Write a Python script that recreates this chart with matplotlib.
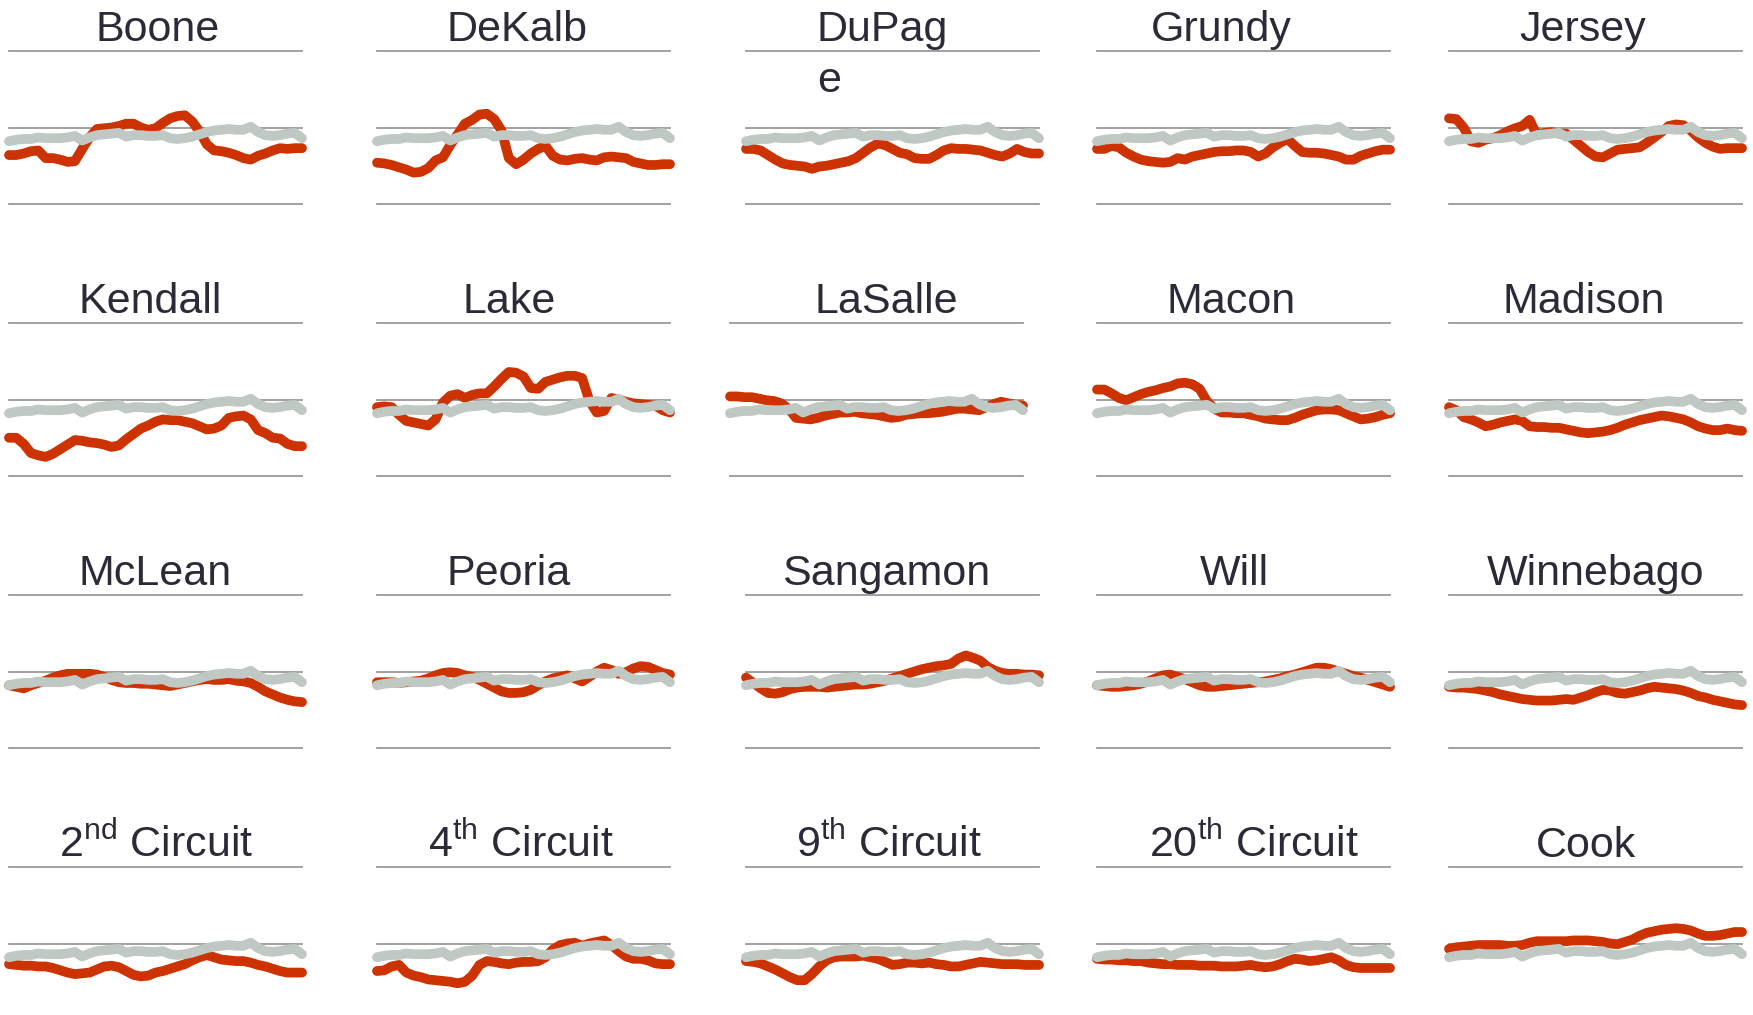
import matplotlib
matplotlib.use("Agg")
import matplotlib.pyplot as plt

plt.rcParams['font.family'] = ['Liberation Sans', 'DejaVu Sans']
plt.rcParams['mathtext.fontset'] = 'custom'
plt.rcParams['mathtext.rm'] = 'Liberation Sans'

# ---------------- data ----------------
titles = ["Boone", "DeKalb", "DuPag\ne", "Grundy", "Jersey",
          "Kendall", "Lake", "LaSalle", "Macon", "Madison",
          "McLean", "Peoria", "Sangamon", "Will", "Winnebago",
          r"2$^{\mathrm{nd}}$ Circuit", r"4$^{\mathrm{th}}$ Circuit",
          r"9$^{\mathrm{th}}$ Circuit", r"20$^{\mathrm{th}}$ Circuit", "Cook"]

gridline_values = [0, 1, 2]

statewide = [0.82, 0.84, 0.85, 0.85, 0.87, 0.86, 0.86, 0.86, 0.87, 0.89,
             0.83, 0.87, 0.90, 0.91, 0.92, 0.93, 0.88, 0.90, 0.90, 0.89,
             0.89, 0.90, 0.86, 0.85, 0.86, 0.88, 0.91, 0.94, 0.96, 0.97,
             0.98, 0.97, 0.97, 1.01, 0.94, 0.90, 0.89, 0.90, 0.92, 0.93, 0.86]

boone = [0.64, 0.64, 0.66, 0.69, 0.70, 0.60, 0.60, 0.58, 0.55, 0.56,
         0.72, 0.87, 0.98, 0.99, 1.00, 1.02, 1.05, 1.05, 1.00, 0.97,
         0.99, 1.06, 1.12, 1.15, 1.16, 1.08, 0.95, 0.78, 0.70, 0.69,
         0.67, 0.64, 0.60, 0.58, 0.63, 0.66, 0.70, 0.73, 0.72, 0.73, 0.73]
dekalb = [0.54, 0.53, 0.51, 0.48, 0.45, 0.41, 0.42, 0.47, 0.57, 0.61,
          0.77, 0.91, 1.05, 1.10, 1.17, 1.18, 1.11, 0.96, 0.60, 0.52,
          0.58, 0.66, 0.72, 0.76, 0.63, 0.58, 0.57, 0.59, 0.60, 0.58,
          0.57, 0.61, 0.62, 0.61, 0.60, 0.55, 0.53, 0.51, 0.51, 0.52, 0.52]
dupage = [0.72, 0.72, 0.70, 0.64, 0.58, 0.53, 0.51, 0.50, 0.49, 0.46,
          0.49, 0.50, 0.52, 0.54, 0.56, 0.60, 0.67, 0.74, 0.79, 0.77,
          0.72, 0.67, 0.65, 0.60, 0.59, 0.59, 0.64, 0.70, 0.73, 0.72,
          0.72, 0.71, 0.70, 0.67, 0.64, 0.62, 0.66, 0.72, 0.68, 0.66, 0.66]
grundy = [0.72, 0.72, 0.76, 0.74, 0.67, 0.62, 0.58, 0.56, 0.55, 0.54,
          0.55, 0.60, 0.58, 0.62, 0.64, 0.66, 0.68, 0.69, 0.69, 0.70,
          0.70, 0.68, 0.62, 0.66, 0.74, 0.80, 0.85, 0.76, 0.68, 0.67,
          0.67, 0.66, 0.64, 0.62, 0.58, 0.58, 0.63, 0.66, 0.69, 0.71, 0.71]
jersey = [1.12, 1.11, 1.00, 0.82, 0.80, 0.84, 0.86, 0.90, 0.95, 0.99,
          1.02, 1.10, 0.90, 0.93, 0.94, 0.92, 0.92, 0.84, 0.76, 0.68,
          0.62, 0.61, 0.66, 0.71, 0.72, 0.73, 0.74, 0.80, 0.87, 0.94,
          1.02, 1.04, 1.03, 0.96, 0.87, 0.80, 0.75, 0.72, 0.73, 0.73, 0.73]
kendall = [0.50, 0.50, 0.42, 0.30, 0.27, 0.25, 0.29, 0.35, 0.41, 0.47,
           0.46, 0.44, 0.43, 0.41, 0.38, 0.40, 0.48, 0.55, 0.62, 0.66,
           0.71, 0.74, 0.73, 0.73, 0.71, 0.69, 0.65, 0.61, 0.62, 0.66,
           0.76, 0.78, 0.79, 0.74, 0.60, 0.56, 0.50, 0.49, 0.42, 0.39, 0.39]
lake = [0.90, 0.91, 0.90, 0.80, 0.72, 0.70, 0.68, 0.66, 0.74, 0.96,
        1.05, 1.07, 1.02, 1.06, 1.08, 1.08, 1.17, 1.27, 1.36, 1.35,
        1.30, 1.15, 1.14, 1.23, 1.26, 1.29, 1.31, 1.31, 1.28, 0.98,
        0.83, 0.85, 1.02, 1.00, 0.97, 0.95, 0.94, 0.93, 0.92, 0.86, 0.83]
lasalle = [1.04, 1.04, 1.03, 1.03, 1.01, 0.99, 0.98, 0.95, 0.88, 0.76,
           0.75, 0.74, 0.76, 0.79, 0.81, 0.83, 0.83, 0.84, 0.82, 0.81,
           0.80, 0.78, 0.76, 0.77, 0.80, 0.81, 0.82, 0.82, 0.83, 0.84,
           0.86, 0.88, 0.88, 0.87, 0.86, 0.90, 0.94, 0.97, 0.95, 0.93, 0.92]
macon = [1.13, 1.13, 1.08, 1.02, 0.99, 1.03, 1.07, 1.10, 1.12, 1.15,
         1.17, 1.21, 1.22, 1.20, 1.14, 0.98, 0.88, 0.83, 0.83, 0.82,
         0.82, 0.80, 0.78, 0.75, 0.74, 0.73, 0.73, 0.76, 0.80, 0.83,
         0.86, 0.87, 0.87, 0.86, 0.82, 0.78, 0.74, 0.75, 0.77, 0.80, 0.82]
madison = [0.90, 0.86, 0.77, 0.74, 0.70, 0.65, 0.67, 0.70, 0.72, 0.74,
           0.72, 0.65, 0.64, 0.64, 0.63, 0.63, 0.61, 0.59, 0.57, 0.56,
           0.57, 0.58, 0.60, 0.63, 0.67, 0.70, 0.73, 0.75, 0.77, 0.79,
           0.78, 0.76, 0.74, 0.70, 0.65, 0.62, 0.60, 0.60, 0.62, 0.60, 0.59]
mclean = [0.82, 0.80, 0.78, 0.82, 0.85, 0.88, 0.92, 0.95, 0.97, 0.97,
          0.97, 0.97, 0.96, 0.93, 0.89, 0.86, 0.85, 0.85, 0.84, 0.84,
          0.83, 0.82, 0.81, 0.83, 0.85, 0.87, 0.89, 0.90, 0.89, 0.89,
          0.90, 0.88, 0.87, 0.85, 0.80, 0.74, 0.70, 0.66, 0.63, 0.61, 0.60]
peoria = [0.86, 0.86, 0.86, 0.85, 0.86, 0.87, 0.88, 0.91, 0.95, 0.98,
          0.99, 0.98, 0.95, 0.93, 0.89, 0.84, 0.79, 0.74, 0.72, 0.72,
          0.73, 0.76, 0.82, 0.87, 0.91, 0.93, 0.95, 0.91, 0.87, 0.93,
          1.00, 1.05, 1.02, 0.97, 0.99, 1.04, 1.07, 1.06, 1.02, 0.98, 0.96]
sangamon = [0.92, 0.85, 0.78, 0.72, 0.71, 0.73, 0.77, 0.79, 0.80, 0.80,
            0.80, 0.79, 0.80, 0.81, 0.82, 0.83, 0.83, 0.84, 0.86, 0.88,
            0.91, 0.94, 0.97, 1.00, 1.03, 1.05, 1.07, 1.08, 1.10, 1.17,
            1.21, 1.18, 1.14, 1.06, 1.01, 0.98, 0.97, 0.97, 0.96, 0.96, 0.95]
will = [0.82, 0.81, 0.80, 0.80, 0.81, 0.82, 0.84, 0.87, 0.91, 0.95,
        0.96, 0.93, 0.90, 0.86, 0.82, 0.80, 0.80, 0.81, 0.82, 0.83,
        0.84, 0.85, 0.86, 0.87, 0.89, 0.91, 0.94, 0.96, 0.99, 1.02,
        1.05, 1.05, 1.03, 1.00, 0.97, 0.94, 0.92, 0.89, 0.86, 0.83, 0.80]
winnebago = [0.80, 0.79, 0.79, 0.78, 0.77, 0.75, 0.73, 0.70, 0.68, 0.66,
             0.64, 0.63, 0.62, 0.62, 0.62, 0.63, 0.64, 0.63, 0.66, 0.69,
             0.73, 0.76, 0.75, 0.72, 0.71, 0.73, 0.75, 0.78, 0.80, 0.79,
             0.78, 0.77, 0.75, 0.72, 0.68, 0.66, 0.63, 0.61, 0.59, 0.57, 0.56]
circuit_2 = [0.73, 0.72, 0.71, 0.71, 0.70, 0.70, 0.68, 0.65, 0.62, 0.60,
             0.61, 0.62, 0.66, 0.70, 0.71, 0.69, 0.64, 0.59, 0.57, 0.58,
             0.62, 0.64, 0.67, 0.70, 0.73, 0.78, 0.82, 0.85, 0.82, 0.79,
             0.78, 0.77, 0.77, 0.75, 0.72, 0.70, 0.67, 0.64, 0.62, 0.62, 0.62]
circuit_4 = [0.64, 0.65, 0.70, 0.72, 0.62, 0.58, 0.56, 0.53, 0.52, 0.51,
             0.50, 0.48, 0.50, 0.58, 0.72, 0.77, 0.76, 0.74, 0.73, 0.75,
             0.76, 0.76, 0.77, 0.82, 0.92, 0.98, 1.00, 1.01, 0.97, 1.00,
             1.02, 1.04, 0.98, 0.90, 0.83, 0.80, 0.80, 0.78, 0.74, 0.73, 0.73]
circuit_9 = [0.77, 0.76, 0.74, 0.70, 0.66, 0.61, 0.56, 0.52, 0.52, 0.60,
             0.70, 0.78, 0.82, 0.83, 0.83, 0.83, 0.84, 0.82, 0.80, 0.76,
             0.72, 0.73, 0.75, 0.75, 0.74, 0.75, 0.73, 0.72, 0.70, 0.70,
             0.72, 0.74, 0.76, 0.75, 0.74, 0.73, 0.73, 0.73, 0.72, 0.72, 0.72]
circuit_20 = [0.80, 0.79, 0.79, 0.78, 0.78, 0.77, 0.77, 0.75, 0.74, 0.73,
              0.73, 0.72, 0.72, 0.72, 0.71, 0.71, 0.71, 0.70, 0.70, 0.70,
              0.71, 0.72, 0.70, 0.69, 0.70, 0.73, 0.77, 0.80, 0.79, 0.77,
              0.78, 0.80, 0.82, 0.78, 0.72, 0.69, 0.68, 0.68, 0.68, 0.68, 0.68]
cook = [0.93, 0.95, 0.96, 0.97, 0.98, 0.98, 0.98, 0.98, 0.97, 0.97,
        0.98, 1.01, 1.03, 1.03, 1.03, 1.03, 1.03, 1.04, 1.04, 1.04,
        1.03, 1.02, 1.00, 0.99, 1.02, 1.05, 1.10, 1.14, 1.16, 1.18,
        1.19, 1.20, 1.19, 1.17, 1.13, 1.10, 1.10, 1.11, 1.13, 1.15, 1.15]

local_series = [boone, dekalb, dupage, grundy, jersey,
                kendall, lake, lasalle, macon, madison,
                mclean, peoria, sangamon, will, winnebago,
                circuit_2, circuit_4, circuit_9, circuit_20, cook]

# ---------------- layout (pixels in a 1753x1015 canvas) ----------------
W, H = 1753, 1015
col_left = [9, 377, 746, 1097, 1449]
panel_w = 293
row_top = [51, 323, 595, 867]
panel_h = 153
panel_shift = [0, 0, 0, 0, 0,
               0, 0, -16, 0, 0,
               0, 0, 0, 0, 0,
               0, 0, 0, 0, 0]
title_shift = [2, -7, 0, -22, -13,
               -5, -14, 10, -12, -12,
               0, -15, -6, -9, 0,
               1, -2, -3, 10, -10]

RED = "#CC3300"
GRAY = "#BFC8C2"
GRID = "#999999"
TEXT = "#2B2B38"
LW = 7

fig = plt.figure(figsize=(W / 100, H / 100), dpi=100)
fig.patch.set_facecolor("white")

for i, (title, red) in enumerate(zip(titles, local_series)):
    r, c = divmod(i, 5)
    x0 = col_left[c] + panel_shift[i]
    y0 = row_top[r]
    ax = fig.add_axes([x0 / W, 1 - (y0 + panel_h) / H, panel_w / W, panel_h / H])
    ax.set_axis_off()
    xs = list(range(len(red)))
    ax.set_xlim(0, len(red) - 1)
    ax.set_ylim(gridline_values[0], gridline_values[-1])
    for g in gridline_values:
        ax.axhline(g, color=GRID, lw=1.3, zorder=1, clip_on=False)
    ax.plot(xs, red, color=RED, lw=LW, solid_capstyle="round",
            solid_joinstyle="round", zorder=2, clip_on=False)
    ax.plot(range(len(statewide)), statewide, color=GRAY, lw=LW,
            solid_capstyle="round", solid_joinstyle="round", zorder=3,
            clip_on=False)
    baseline_y = 1 - (y0 - 10) / H
    if "\n" in title:
        first, second = title.split("\n")
        fig.text(817 / W, baseline_y, first, ha="left",
                 va="baseline", fontsize=31, color=TEXT)
        fig.text(817 / W, baseline_y - 51 / H, second, ha="left",
                 va="baseline", fontsize=31, color=TEXT)
    else:
        cx = x0 + panel_w / 2 + title_shift[i]
        fig.text(cx / W, baseline_y, title, ha="center", va="baseline",
                 fontsize=31, color=TEXT)

fig.savefig("out.png", dpi=100, facecolor="white")
